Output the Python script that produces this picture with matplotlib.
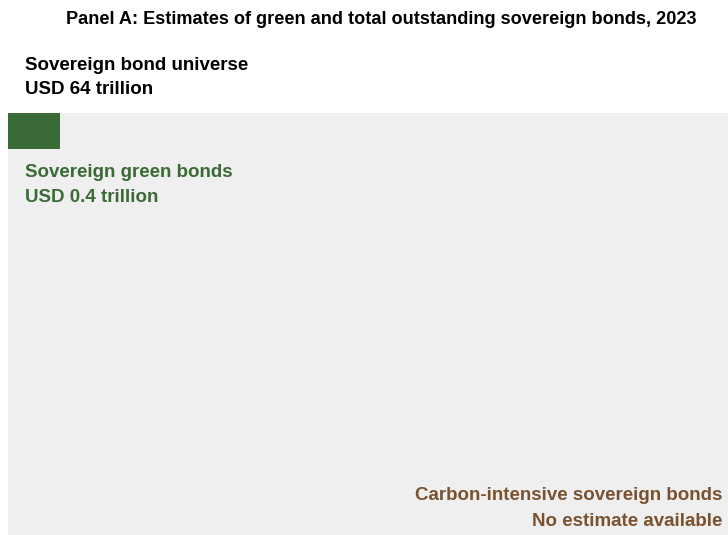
import matplotlib.pyplot as plt
import matplotlib.patches as mpatches
import numpy as np
from matplotlib import font_manager

# outstanding amounts, USD trillion
total_universe = 64.0
green_bonds = 0.4
green_aspect = 52 / 36  # width / height of the green block

title = "Panel A: Estimates of green and total outstanding sovereign bonds, 2023"
universe_label = ["Sovereign bond universe", "USD 64 trillion"]
green_label = ["Sovereign green bonds", "USD 0.4 trillion"]
carbon_label = ["Carbon-intensive sovereign bonds", "No estimate available"]

names = {f.name for f in font_manager.fontManager.ttflist}
fam = [f for f in ["Liberation Sans Narrow", "Arial Narrow", "Liberation Sans", "DejaVu Sans"] if f in names]
plt.rcParams['font.family'] = fam

grey = "#efefef"
green = "#3a6a35"
brown = "#7a5230"

fig = plt.figure(figsize=(7.28, 5.35), dpi=100)
fig.patch.set_facecolor("white")

# universe block, sized in pixel units
W, H = 720, 422
ax = fig.add_axes([8 / 728, 0, W / 728, H / 535])
ax.set_xlim(0, W)
ax.set_ylim(H, 0)
ax.axis("off")

ax.add_patch(mpatches.Rectangle((0, 0), W, H, facecolor=grey, edgecolor="none"))

# green block: area proportional to share of the universe
area = W * H * green_bonds / total_universe
gw = np.sqrt(area * green_aspect)
gh = area / gw
ax.add_patch(mpatches.Rectangle((0, 0), gw, gh, facecolor=green, edgecolor="none"))

fs = 13.5
fig.text(381 / 728, 1 - 20 / 535, title, ha="center", va="center",
         fontsize=13.1, fontweight="bold", color="black")
fig.text(25 / 728, 1 - 65 / 535, universe_label[0], ha="left", va="center",
         fontsize=fs, fontweight="bold", color="black")
fig.text(25 / 728, 1 - 90 / 535, universe_label[1], ha="left", va="center",
         fontsize=fs, fontweight="bold", color="black")
fig.text(25 / 728, 1 - 172 / 535, green_label[0], ha="left", va="center",
         fontsize=fs, fontweight="bold", color=green)
fig.text(25 / 728, 1 - 197 / 535, green_label[1], ha="left", va="center",
         fontsize=fs, fontweight="bold", color=green)
fig.text(722 / 728, 1 - 496 / 535, carbon_label[0], ha="right", va="center",
         fontsize=fs, fontweight="bold", color=brown)
fig.text(722 / 728, 1 - 521 / 535, carbon_label[1], ha="right", va="center",
         fontsize=fs, fontweight="bold", color=brown)

fig.savefig("out.png", dpi=100, facecolor="white")
